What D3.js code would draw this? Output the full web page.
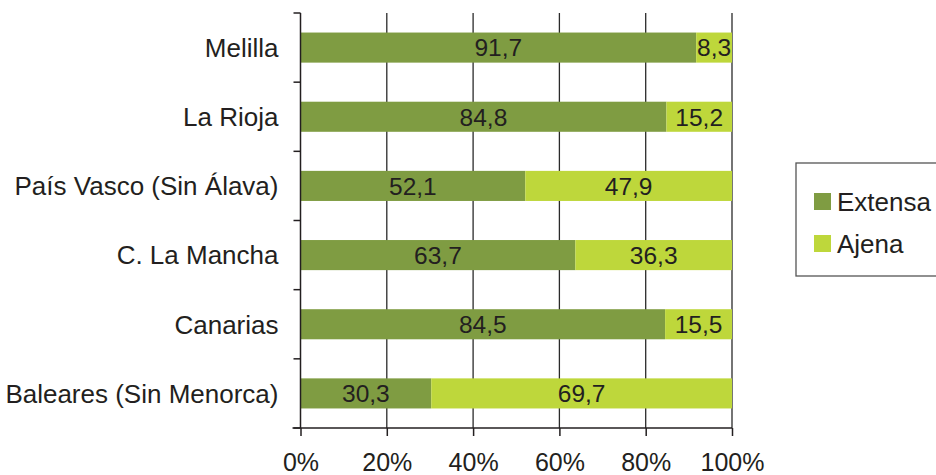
<!DOCTYPE html>
<html>
<head>
<meta charset="utf-8">
<script src="https://cdn.jsdelivr.net/npm/d3@7"></script>
<style>
  body { margin: 0; background: #fff; }
  svg text { font-family: "Liberation Sans", Arial, sans-serif; fill: #231f20; }
</style>
</head>
<body>
<div class="chart"></div>
<script>
// regions, top to bottom
const regions = ['Melilla', 'La Rioja', 'País Vasco (Sin Álava)', 'C. La Mancha', 'Canarias', 'Baleares (Sin Menorca)'];
const extensa = [91.7, 84.8, 52.1, 63.7, 84.5, 30.3];
const ajena = [8.3, 15.2, 47.9, 36.3, 15.5, 69.7];
const seriesNames = ['Extensa', 'Ajena'];
const xTicks = [0, 20, 40, 60, 80, 100];

const colors = {Extensa: '#7f9c42', Ajena: '#bed73b'};

const W = 936, H = 475;
const margin = {top: 13, left: 300.5, right: 204, bottom: 47};
const width = W - margin.left - margin.right;
const height = H - margin.top - margin.bottom;

const svg = d3.select('.chart').append('svg')
  .attr('width', W).attr('height', H);
const g = svg.append('g')
  .attr('transform', `translate(${margin.left},${margin.top})`);

const x = d3.scaleLinear().domain([0, 100]).range([0, width]);
const y = d3.scaleBand().domain(regions).range([0, height])
  .paddingInner(0.565).paddingOuter(0.2825);

// gridlines
g.selectAll('.grid').data(xTicks.slice(1)).enter().append('line')
  .attr('x1', d => x(d)).attr('x2', d => x(d))
  .attr('y1', 0).attr('y2', height)
  .attr('stroke', '#2a2a2a').attr('stroke-width', 1.3);

// stacked data
const rows = regions.map((r, i) => ({region: r, Extensa: extensa[i], Ajena: ajena[i]}));
const stack = d3.stack().keys(seriesNames)(rows);

const layers = g.selectAll('.layer').data(stack).enter().append('g')
  .attr('fill', d => colors[d.key]);

layers.selectAll('rect').data(d => d).enter().append('rect')
  .attr('x', d => x(d[0]))
  .attr('width', d => x(d[1]) - x(d[0]))
  .attr('y', d => y(d.data.region))
  .attr('height', y.bandwidth());

// value labels
stack.forEach(s => {
  g.selectAll(null).data(s).enter().append('text')
    .attr('x', d => x((d[0] + d[1]) / 2))
    .attr('y', d => y(d.data.region) + y.bandwidth() / 2)
    .attr('dy', '0.36em')
    .attr('text-anchor', 'middle')
    .attr('font-size', 24.5)
    .text(d => String(d.data[s.key]).replace('.', ','));
});

// y axis: line + ticks at band boundaries
const step = y.step();
const yAxisG = g.append('g').attr('stroke', '#231f20').attr('stroke-width', 1.5);
yAxisG.append('line').attr('x1', 0).attr('x2', 0).attr('y1', 0).attr('y2', height);
yAxisG.selectAll(null).data(d3.range(regions.length + 1)).enter().append('line')
  .attr('x1', -7).attr('x2', 0)
  .attr('y1', i => i * step).attr('y2', i => i * step);

// category labels
g.selectAll('.cat').data(regions).enter().append('text')
  .attr('x', -22)
  .attr('y', d => y(d) + y.bandwidth() / 2)
  .attr('dy', '0.36em')
  .attr('text-anchor', 'end')
  .attr('font-size', 26)
  .text(d => d);

// x axis
const xAxis = d3.axisBottom(x).tickValues(xTicks).tickSize(8).tickFormat(d => d + '%');
const xg = g.append('g').attr('transform', `translate(0,${height})`).call(xAxis);
xg.select('.domain').attr('d', `M-8,0H${width}`).attr('stroke', '#231f20').attr('stroke-width', 1.5);
xg.selectAll('.tick line').attr('stroke', '#231f20').attr('stroke-width', 1.5);
xg.selectAll('.tick text').attr('font-size', 25).attr('y', 43).attr('dy', 0).attr('fill', '#231f20');

// legend
const legend = svg.append('g').attr('transform', 'translate(796,163)');
legend.append('rect')
  .attr('width', 150).attr('height', 113)
  .attr('fill', '#fff').attr('stroke', '#555').attr('stroke-width', 1.3);
seriesNames.forEach((name, i) => {
  const row = legend.append('g').attr('transform', `translate(18,${30 + i * 42})`);
  row.append('rect').attr('width', 17).attr('height', 17).attr('fill', colors[name]);
  row.append('text').attr('x', 23).attr('y', 8.5).attr('dy', '0.36em')
    .attr('font-size', 26).text(name);
});
</script>
</body>
</html>
